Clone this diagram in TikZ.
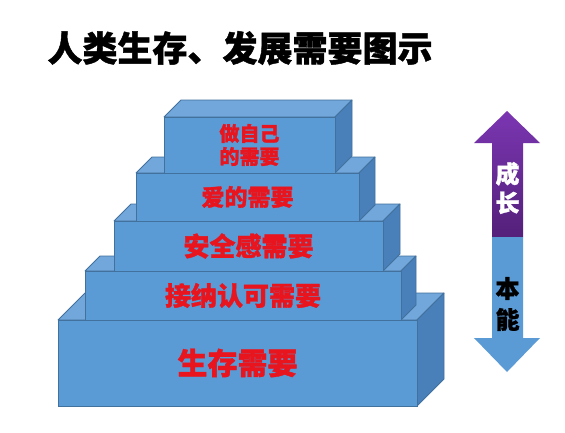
\documentclass[tikz,border=0pt]{standalone}
\usepackage{fontspec}
\newfontfamily\cjk[BoldFeatures={FakeBold=1.2}]{Noto Sans CJK SC}
\definecolor{frontc}{HTML}{5B9BD5}
\definecolor{topc}{HTML}{72A7DB}
\definecolor{sidec}{HTML}{4A80BA}
\definecolor{edgec}{HTML}{41719C}
\definecolor{labred}{HTML}{E8141E}
\definecolor{purpTop}{HTML}{7B36B2}
\definecolor{purpBot}{HTML}{54207A}
\definecolor{arrblue}{HTML}{5B9BD5}
\tikzset{
  front/.style={draw=edgec, line width=0.8pt, fill=frontc, inner sep=0pt, text=labred, align=center},
  topface/.style={draw=edgec, line width=0.8pt, fill=topc, line join=round},
  sideface/.style={draw=edgec, line width=0.8pt, fill=sidec, line join=round},
}
% \myblock{name}{x1}{y1}{x2}{y2}{depth}{fontsize}{text}
\newcommand{\myblock}[8]{%
  \filldraw[topface] (#2,#3) -- ++(#6,-#6) -- (#4+#6,#3-#6) -- (#4,#3) -- cycle;
  \filldraw[sideface] (#4,#3) -- (#4+#6,#3-#6) -- (#4+#6,#5-#6) -- (#4,#5) -- cycle;
  \node[front, minimum width={(#4-#2)*1pt}, minimum height={(#5-#3)*1pt}, font=\cjk\bfseries\fontsize{#7}{23}\selectfont] (#1) at ({(#2+#4)/2},{(#3+#5)/2}) {#8};
}
\begin{document}
\begin{tikzpicture}[x=1pt,y=-1pt]
\useasboundingbox (0,0) rectangle (565,432);
\fill[white] (0,0) rectangle (565,432);
\node[font=\cjk\bfseries\fontsize{35}{35}\selectfont, inner sep=0pt] (title) at (240,48) {人类生存、发展需要图示};
\myblock{b5}{58}{320}{417}{406}{27}{30}{生存需要}
\myblock{b4}{85}{271}{401}{320}{15}{26}{接纳认可需要}
\myblock{b3}{114}{221}{383}{271}{17}{26}{安全感需要}
\myblock{b2}{136}{173}{359}{221}{16}{23}{爱的需要}
\myblock{b1}{164}{117}{335}{173}{17}{20}{做自己\\的需要}
% arrow
\shade[top color=purpTop, bottom color=purpBot] (507,111) -- (540,143) -- (523,143) -- (523,237) -- (492,237) -- (492,143) -- (474,143) -- cycle;
\fill[arrblue] (492,237) -- (523,237) -- (523,338) -- (540,338) -- (507,372) -- (474,338) -- (492,338) -- cycle;
\node[font=\cjk\bfseries\fontsize{24}{29}\selectfont, text=white, align=center, inner sep=0pt] (grow) at (507.5,188) {成\\长};
\node[font=\cjk\bfseries\fontsize{24}{31}\selectfont, text=black, align=center, inner sep=0pt] (inst) at (507.5,304) {本\\能};
\end{tikzpicture}
\end{document}
